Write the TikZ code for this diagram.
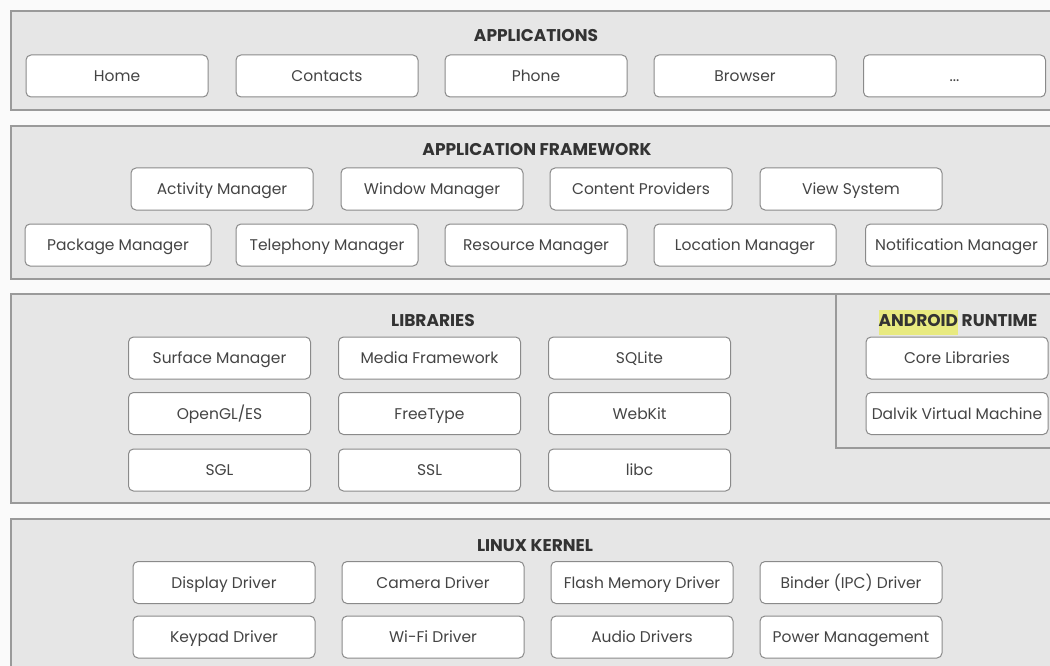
\documentclass[tikz,border=0pt]{standalone}
\usepackage{fontspec}
\setmainfont{Poppins}
\definecolor{layerfill}{HTML}{E6E6E6}
\definecolor{layerline}{HTML}{9A9A9A}
\definecolor{boxline}{HTML}{8A8A8A}
\definecolor{txt}{HTML}{444444}
\definecolor{hl}{HTML}{E4E66A}
\begin{document}
\begin{tikzpicture}[x=1pt,y=-1pt,
  layer/.style={fill=layerfill,draw=layerline,line width=1.6pt},
  comp/.style={draw=boxline,fill=white,line width=1pt,rounded corners=5pt,
    minimum width=182pt,minimum height=42pt,inner sep=0pt,text=txt,
    text height=11pt,text depth=0pt,
    font=\fontsize{15.5}{17}\selectfont},
  title/.style={text=black!80,font=\fontsize{17}{19}\selectfont\bfseries,inner sep=0pt,
    text height=12pt,text depth=0pt}]
\useasboundingbox[fill=white!98!black] (0,0) rectangle (1050,666);
% layers
\path[layer] (11,11) rectangle (1062,110);
\path[layer] (11,126) rectangle (1062,279);
\path[layer] (11,294) rectangle (1062,503);
\path[layer] (11,519) rectangle (1062,690);
\draw[draw=layerline,line width=1.6pt] (836,294) -- (836,448) -- (1062,448);
% titles
\node[title] (tapp) at (536,36) {APPLICATIONS};
\node[title] (tfw) at (537,150) {APPLICATION FRAMEWORK};
\node[title] (tlib) at (433,320) {LIBRARIES};
\node[title] (tart) at (958,320) {\colorbox{hl!85!white}{\hspace{-3pt}\strut ANDROID\hspace{-3pt}} RUNTIME};
\node[title] (tlk) at (535,545) {LINUX KERNEL};
% applications
\node[comp] (home) at (117,76) {Home};
\node[comp] (contacts) at (327,76) {Contacts};
\node[comp] (phone) at (536,76) {Phone};
\node[comp] (browser) at (745,76) {Browser};
\node[comp] (more) at (954.5,76) {...};
% framework
\node[comp] (am) at (222,189) {Activity Manager};
\node[comp] (wm) at (432,189) {Window Manager};
\node[comp] (cp) at (641,189) {Content Providers};
\node[comp] (vs) at (851,189) {View System};
\node[comp,minimum width=186pt] (pm) at (118,245) {Package Manager};
\node[comp] (tm) at (327,245) {Telephony Manager};
\node[comp] (rm) at (536,245) {Resource Manager};
\node[comp] (lm) at (745,245) {Location Manager};
\node[comp] (nm) at (956.5,245) {Notification Manager};
% libraries
\node[comp] (sm) at (219.5,358) {Surface Manager};
\node[comp] (mf) at (429.5,358) {Media Framework};
\node[comp] (sq) at (639.5,358) {SQLite};
\node[comp] (gl) at (219.5,413.5) {OpenGL/ES};
\node[comp] (ft) at (429.5,413.5) {FreeType};
\node[comp] (wk) at (639.5,413.5) {WebKit};
\node[comp] (sgl) at (219.5,470) {SGL};
\node[comp] (ssl) at (429.5,470) {SSL};
\node[comp] (libc) at (639.5,470) {libc};
% android runtime
\node[comp] (cl) at (957,358) {Core Libraries};
\node[comp] (dvm) at (957,413.5) {Dalvik Virtual Machine};
% kernel
\node[comp] (dd) at (224,582.5) {Display Driver};
\node[comp] (cd) at (433,582.5) {Camera Driver};
\node[comp] (fmd) at (642,582.5) {Flash Memory Driver};
\node[comp] (bd) at (851,582.5) {Binder (IPC) Driver};
\node[comp] (kd) at (224,637) {Keypad Driver};
\node[comp] (wd) at (433,637) {Wi-Fi Driver};
\node[comp] (ad) at (642,637) {Audio Drivers};
\node[comp] (pwm) at (851,637) {Power Management};
\end{tikzpicture}
\end{document}
